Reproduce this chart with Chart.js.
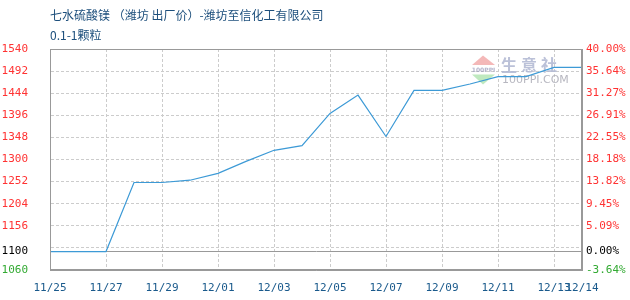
<!DOCTYPE html>
<html>
<head>
<meta charset="utf-8">
<script src="https://cdn.jsdelivr.net/npm/chart.js@4"></script>
<style>
html,body{margin:0;padding:0;background:#fff;}
#wrap{width:630px;height:300px;position:relative;}
</style>
</head>
<body>
<div id="wrap"><canvas id="c"></canvas></div>
<script>
const titleLines = ['七水硫酸镁 （潍坊 出厂价）-潍坊至信化工有限公司', '0.1-1颗粒'];
const dates = ['11/25','11/26','11/27','11/28','11/29','11/30','12/01','12/02','12/03','12/04',
               '12/05','12/06','12/07','12/08','12/09','12/10','12/11','12/12','12/13','12/14'];
const prices = [1100,1100,1100,1250,1250,1255,1270,1296,1320,1330,
                1400,1440,1350,1450,1450,1464,1480,1480,1500,1500];
const yTicks = [1540,1492,1444,1396,1348,1300,1252,1204,1156,1108,1100,1060];
const yLabelled = [1540,1492,1444,1396,1348,1300,1252,1204,1156,1100,1060];
const basePrice = 1100;
const yMin = 1060, yMax = 1540;

function tickColor(v){
  if (v > basePrice) return '#ff3333';
  if (v < basePrice) return '#33aa33';
  return '#000000';
}
const monoFont = {family:'DejaVu Sans Mono', size:11};

const framePlugin = {
  id:'frame',
  beforeDatasetsDraw(chart){
    const ctx = chart.ctx;
    ctx.save();
    // watermark logo
    ctx.fillStyle = 'rgba(240,160,160,0.75)';
    ctx.beginPath(); ctx.moveTo(483,55.5); ctx.lineTo(472,65); ctx.lineTo(495,65); ctx.closePath(); ctx.fill();
    ctx.fillStyle = 'rgba(170,225,170,0.75)';
    ctx.beginPath(); ctx.moveTo(472,74.5); ctx.lineTo(495,74.5); ctx.lineTo(483,84.5); ctx.closePath(); ctx.fill();
    ctx.fillStyle = 'rgba(160,160,190,0.8)';
    ctx.font = 'bold 6px DejaVu Sans';
    ctx.textAlign = 'center'; ctx.textBaseline = 'middle';
    ctx.fillText('100PPI', 483.5, 70);
    ctx.fillStyle = 'rgba(180,186,212,0.9)';
    ctx.font = 'bold 16px "Noto Sans CJK SC"';
    ctx.textAlign = 'left';
    ctx.fillText('生', 501, 65); ctx.fillText('意', 521, 65); ctx.fillText('社', 541, 65);
    ctx.fillStyle = 'rgba(175,175,185,0.9)';
    ctx.font = '11px DejaVu Sans';
    ctx.fillText('100PPI.COM', 502, 80);
    ctx.restore();
  },
  afterDraw(chart){
    const a = chart.chartArea, ctx = chart.ctx;
    ctx.save();
    ctx.strokeStyle = '#999999';
    ctx.lineWidth = 1;
    ctx.strokeRect(Math.round(a.left)+0.5, Math.round(a.top)+0.5, Math.round(a.right-a.left)-1, Math.round(a.bottom-a.top)-1);
    ctx.restore();
  }
};

new Chart(document.getElementById('c'), {
  type:'line',
  data:{
    labels: dates,
    datasets:[{
      data: prices,
      borderColor:'#3d9ad6',
      borderWidth:1.2,
      pointRadius:0,
      pointHoverRadius:0,
      tension:0,
      fill:false,
      yAxisID:'y'
    }]
  },
  options:{
    responsive:true,
    maintainAspectRatio:false,
    animation:false,
    events:[],
    layout:{padding:0},
    plugins:{
      legend:{display:false},
      tooltip:{enabled:false},
      title:{
        display:true,
        text:titleLines,
        align:'start',
        fullSize:false,
        color:'#1d4f7c',
        font:{family:'"Noto Sans CJK SC"', size:12, weight:'normal', lineHeight:'20px'},
        padding:{top:5,bottom:4}
      }
    },
    scales:{
      x:{
        type:'category',
        offset:false,
        grid:{
          drawTicks:false,
          color:(c)=> (c.index>0 && c.index<dates.length-1 && c.index%2===0) ? '#cccccc' : 'rgba(0,0,0,0)',
          lineWidth:1
        },
        border:{display:true,color:'#999999',dash:[3,2]},
        ticks:{
          autoSkip:false,
          maxRotation:0,
          minRotation:0,
          padding:12,
          color:'#1a5a8c',
          font:{family:'DejaVu Sans Mono', size:11},
          callback:(v,i)=> (i%2===0 || i===dates.length-1) ? dates[i] : ''
        },
        afterFit:(s)=>{ s.height = 30; }
      },
      y:{
        type:'linear',
        position:'left',
        min:yMin, max:yMax,
        afterBuildTicks:(s)=>{ s.ticks = yTicks.map(v=>({value:v})); },
        grid:{
          drawTicks:false,
          color:(c)=> c.tick && c.tick.value===basePrice ? '#999999' : '#cccccc'
        },
        border:{
          display:true,
          color:'#999999',
          dash:(c)=> (c.tick && c.tick.value===basePrice) ? [] : [3,2]
        },
        ticks:{
          padding:22,
          font:monoFont,
          color:(c)=> tickColor(c.tick.value),
          callback:(v)=> yLabelled.includes(v) ? String(v) : ''
        },
        afterFit:(s)=>{ s.width = 50; }
      },
      y2:{
        type:'linear',
        position:'right',
        min:yMin, max:yMax,
        afterBuildTicks:(s)=>{ s.ticks = yTicks.map(v=>({value:v})); },
        grid:{display:false, drawTicks:false},
        border:{display:true,color:'#999999'},
        ticks:{
          padding:4,
          font:monoFont,
          color:(c)=> tickColor(c.tick.value),
          callback:(v)=> yLabelled.includes(v) ? ((v-basePrice)/basePrice*100).toFixed(2)+'%' : ''
        },
        afterFit:(s)=>{ s.width = 48; }
      }
    }
  },
  plugins:[framePlugin]
});
</script>
</body>
</html>
